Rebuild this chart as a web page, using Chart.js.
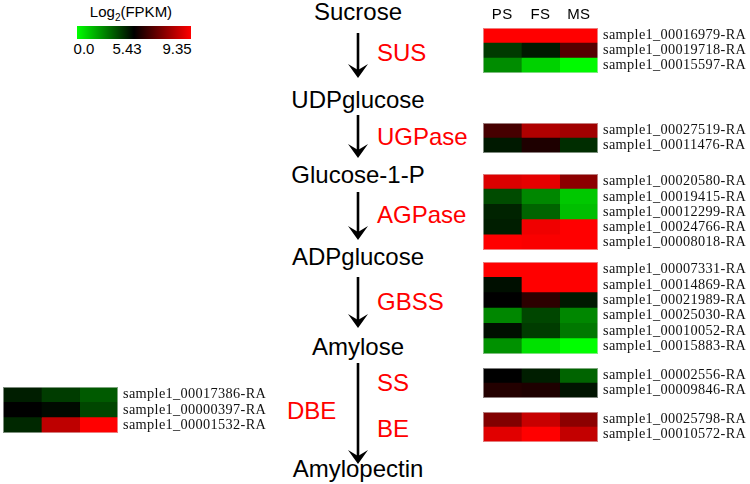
<!DOCTYPE html>
<html>
<head>
<meta charset="utf-8">
<title>Starch pathway expression</title>
<script src="https://cdn.jsdelivr.net/npm/chart.js@4.4.1/dist/chart.umd.min.js"></script>
<style>
  body { margin: 0; background: #fff; }
  #fig { position: relative; width: 750px; height: 484px; overflow: hidden;
         font-family: "Liberation Sans", Arial, sans-serif; }
  .abs { position: absolute; }
  .met { position: absolute; font-size: 24px; line-height: 1; color: #000;
         transform: translate(-50%, -50%); white-space: nowrap; }
  .enz { position: absolute; font-size: 24px; line-height: 1; color: #ff0000;
         transform: translateY(-50%); white-space: nowrap; }
  .cbtick { position: absolute; font-size: 15px; line-height: 1; transform: translate(-50%, -50%); }
  canvas { position: absolute; }
</style>
</head>
<body>
<div id="fig">
  <!-- colour key -->
  <div class="abs" style="left:131px;top:13px;transform:translate(-50%,-50%);font-size:15px;line-height:1;white-space:nowrap">Log<sub style="font-size:10px">2</sub>(FPKM)</div>
  <div class="abs" style="left:77px;top:26px;width:114px;height:13px;background:linear-gradient(to right,#00ff00,#000 50%,#ff0000)"></div>
  <div id="cbticks"></div>

  <!-- pathway -->
  <svg id="arrows" class="abs" style="left:0;top:0" width="750" height="484"></svg>
  <div class="met" style="left:358px;top:12px">Sucrose</div>
  <div class="met" style="left:358px;top:100px">UDPglucose</div>
  <div class="met" style="left:358px;top:175px">Glucose-1-P</div>
  <div class="met" style="left:358px;top:257px">ADPglucose</div>
  <div class="met" style="left:358px;top:347px">Amylose</div>
  <div class="met" style="left:358px;top:469px">Amylopectin</div>
  <div class="enz" style="left:377px;top:53px">SUS</div>
  <div class="enz" style="left:377px;top:137px">UGPase</div>
  <div class="enz" style="left:377px;top:215px">AGPase</div>
  <div class="enz" style="left:377px;top:302px">GBSS</div>
  <div class="enz" style="left:377px;top:383px">SS</div>
  <div class="enz" style="left:377px;top:429px">BE</div>
  <div class="enz" style="left:287px;top:411px">DBE</div>
</div>

<script>
// stages (heatmap columns)
const stages = ["PS", "FS", "MS"];

// Log2(FPKM) colour scale
const colorMin = 0.0;
const colorMid = 5.43;
const colorMax = 9.35;
const colorTicks = ["0.0", "5.43", "9.35"];

// expression values, one row per gene: [PS, FS, MS]
const susGenes = ["sample1_00016979-RA", "sample1_00019718-RA", "sample1_00015597-RA"];
const susValues = [
  [9.35, 9.35, 9.35],
  [4.2, 4.9, 6.74],
  [2.45, 0.96, 0.1],
];

const ugpGenes = ["sample1_00027519-RA", "sample1_00011476-RA"];
const ugpValues = [
  [6.51, 8.12, 7.89],
  [4.9, 5.89, 4.47],
];

const agpGenes = ["sample1_00020580-RA", "sample1_00019415-RA", "sample1_00012299-RA",
                  "sample1_00024766-RA", "sample1_00008018-RA"];
const agpValues = [
  [8.81, 8.97, 7.58],
  [3.83, 2.56, 1.17],
  [4.69, 3.3, 1.38],
  [4.79, 9.12, 9.35],
  [9.35, 9.27, 9.35],
];

const gbssGenes = ["sample1_00007331-RA", "sample1_00014869-RA", "sample1_00021989-RA",
                   "sample1_00025030-RA", "sample1_00010052-RA", "sample1_00015883-RA"];
const gbssValues = [
  [9.35, 9.35, 9.35],
  [5.11, 9.35, 9.35],
  [5.43, 6.12, 4.9],
  [2.56, 3.94, 2.56],
  [5.11, 4.15, 2.87],
  [2.34, 0.64, 0.0],
];

const ssGenes = ["sample1_00002556-RA", "sample1_00009846-RA"];
const ssValues = [
  [5.43, 4.79, 3.3],
  [5.97, 5.89, 5.0],
];

const beGenes = ["sample1_00025798-RA", "sample1_00010572-RA"];
const beValues = [
  [7.43, 8.5, 7.58],
  [8.89, 9.35, 8.43],
];

const dbeGenes = ["sample1_00017386-RA", "sample1_00000397-RA", "sample1_00001532-RA"];
const dbeValues = [
  [4.79, 4.15, 3.51],
  [5.43, 5.22, 3.94],
  [4.58, 8.35, 9.35],
];

// green -> black -> red
const heatColor = (v) => {
  if (v <= colorMid) {
    const g = Math.round((255 * (colorMid - v)) / (colorMid - colorMin));
    return `rgb(0,${g},0)`;
  }
  const r = Math.round((255 * (v - colorMid)) / (colorMax - colorMid));
  return `rgb(${r},0,0)`;
};

// colour key ticks
const cbTickX = [84, 127, 177];
const cbHolder = document.getElementById("cbticks");
colorTicks.forEach((t, i) => {
  const d = document.createElement("div");
  d.className = "cbtick";
  d.style.left = cbTickX[i] + "px";
  d.style.top = "48px";
  d.textContent = t;
  cbHolder.appendChild(d);
});

// pathway arrows
const svg = document.getElementById("arrows");
const arrowX = 358;
const arrowSpans = [[33, 78], [115, 158], [192, 240], [277, 328], [363, 464]];
arrowSpans.forEach(([y1, y2]) => {
  const ns = "http://www.w3.org/2000/svg";
  const line = document.createElementNS(ns, "line");
  line.setAttribute("x1", arrowX);
  line.setAttribute("x2", arrowX);
  line.setAttribute("y1", y1);
  line.setAttribute("y2", y2 - 6);
  line.setAttribute("stroke", "#000");
  line.setAttribute("stroke-width", "2.6");
  svg.appendChild(line);
  const head = document.createElementNS(ns, "path");
  head.setAttribute("d",
    `M${arrowX},${y2} L${arrowX - 10},${y2 - 14} L${arrowX},${y2 - 8} L${arrowX + 10},${y2 - 14} Z`);
  head.setAttribute("fill", "#000");
  svg.appendChild(head);
});

// faint frame round each heat block, and a little letter spacing for the serif gene ids
const framePlugin = {
  id: "frame",
  beforeDraw(chart) {
    chart.ctx.letterSpacing = "0.35px";
  },
  afterDatasetsDraw(chart) {
    const { ctx, chartArea: a } = chart;
    ctx.save();
    ctx.strokeStyle = "rgba(225,225,225,0.55)";
    ctx.lineWidth = 1;
    ctx.strokeRect(a.left + 0.5, a.top + 0.5, a.right - a.left - 1, a.bottom - a.top - 1);
    ctx.restore();
  },
};

const labelWidth = 150;
const headerHeight = 28;

const makeHeatmap = (genes, values, left, top, rowH, header) => {
  const canvas = document.createElement("canvas");
  const areaH = Math.round(genes.length * rowH);
  const offsetTop = header ? headerHeight : 0;
  canvas.width = 115 + labelWidth;
  canvas.height = areaH + offsetTop + 3;
  canvas.style.left = left + "px";
  canvas.style.top = top - offsetTop + "px";
  document.getElementById("fig").appendChild(canvas);

  const scales = {
    x: { stacked: true, display: false, min: 0, max: stages.length },
    y: {
      stacked: true,
      position: "right",
      grid: { display: false, drawTicks: false },
      border: { display: false },
      ticks: {
        autoSkip: false,
        padding: 5,
        color: "#111",
        font: { family: "Liberation Serif", size: 14.3 },
      },
      afterFit: (s) => {
        s.width = labelWidth;
        s.paddingTop = 0;
        s.paddingBottom = 0;
      },
    },
  };
  if (header) {
    scales.x2 = {
      type: "category",
      labels: stages,
      position: "top",
      offset: true,
      grid: { display: false, drawTicks: false },
      border: { display: false },
      ticks: { padding: 4, color: "#000", font: { family: "Liberation Sans", size: 15 } },
      afterFit: (s) => { s.height = headerHeight; },
    };
  }

  return new Chart(canvas, {
    type: "bar",
    data: {
      labels: genes,
      datasets: stages.map((stage, j) => ({
        label: stage,
        data: genes.map(() => 1),
        backgroundColor: values.map((row) => heatColor(row[j])),
        borderWidth: 0,
        categoryPercentage: 1,
        barPercentage: 1,
      })),
    },
    options: {
      indexAxis: "y",
      responsive: false,
      animation: false,
      layout: { padding: { top: 0, bottom: 3, left: 0, right: 0 } },
      plugins: { legend: { display: false }, tooltip: { enabled: false } },
      scales,
    },
    plugins: [framePlugin],
  });
};

makeHeatmap(susGenes, susValues, 483, 28, 15, true);
makeHeatmap(ugpGenes, ugpValues, 483, 123, 15, false);
makeHeatmap(agpGenes, agpValues, 483, 174, 15.2, false);
makeHeatmap(gbssGenes, gbssValues, 483, 262, 15.3, false);
makeHeatmap(ssGenes, ssValues, 483, 368, 15, false);
makeHeatmap(beGenes, beValues, 483, 412, 15, false);
makeHeatmap(dbeGenes, dbeValues, 3, 387, 15.3, false);
</script>
</body>
</html>
